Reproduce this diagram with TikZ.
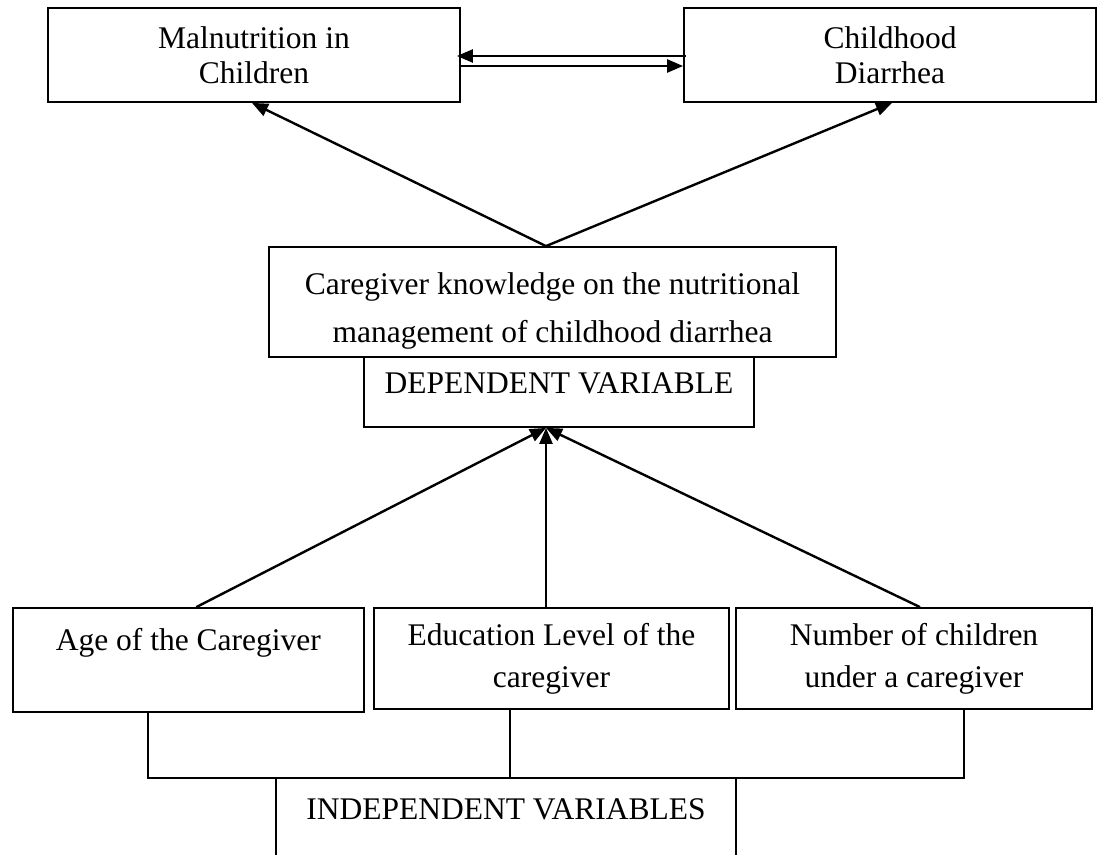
\documentclass[tikz,border=0pt]{standalone}
\usepackage{fontspec}
\setmainfont{Liberation Serif}
\usetikzlibrary{arrows.meta}
\tikzset{
  varbox/.style={draw, line width=1.8pt, inner sep=0pt, align=center, font=\fontsize{31.5}{42}\selectfont},
  flow/.style={line width=2.4pt, -{Triangle[length=16pt,width=13pt]}},
  link/.style={line width=1.4pt}
}

\begin{document}
\begin{tikzpicture}[x=1pt, y=-1pt]
    \useasboundingbox (0,0) rectangle (1097,854);
    % outcomes on top
    \node[varbox, minimum width=412pt, minimum height=94pt, font=\fontsize{31.5}{35}\selectfont] (malnut) at (254,55) {Malnutrition in\\Children};
    \node[varbox, minimum width=412pt, minimum height=94pt, font=\fontsize{31.5}{35}\selectfont] (diarr) at (890,55) {Childhood\\Diarrhea};
    % dependent variable
    \node[varbox, minimum width=567pt, minimum height=110pt, font=\fontsize{31.5}{48}\selectfont] (know) at (552.5,302)
      {\rule{0pt}{40pt}Caregiver knowledge on the nutritional\\management of childhood diarrhea\rule[-8pt]{0pt}{8pt}};
    \node[varbox, minimum width=390pt, minimum height=70pt, text height=21pt, text depth=18pt] (dep) at (559,392) {DEPENDENT VARIABLE};
    % independent variables
    \node[varbox, minimum width=351pt, minimum height=104pt] (age) at (188.3,660) {Age of the Caregiver\\~};
    \node[varbox, minimum width=355pt, minimum height=101pt] (edu) at (551.5,658.5) {Education Level of the\\caregiver};
    \node[varbox, minimum width=356pt, minimum height=101pt] (num) at (914,658.5) {Number of children\\under a caregiver};
    \node[varbox, line width=1.4pt, minimum width=460pt, minimum height=104pt] (indep) at (506,830) {INDEPENDENT VARIABLES\\~};
    % two-way link between the outcomes
    \draw[flow] ([shift={(3pt,-1pt)}]diarr.west) -- ([shift={(-4pt,-1pt)}]malnut.east);
    \draw[flow] ([yshift=-11pt]malnut.east) -- ([yshift=-11pt]diarr.west);
    % knowledge leads to both outcomes
    \draw[flow] ([xshift=-6.5pt]know.north) -- ([xshift=-2pt]malnut.south);
    \draw[flow] ([xshift=-6.5pt]know.north) -- ([xshift=2pt]diarr.south);
    % factors pointing at the dependent variable
    \draw[flow] ([xshift=8pt]age.north) -- ([xshift=-13pt]dep.south);
    \draw[flow] ([xshift=-5.5pt]edu.north) -- ([xshift=-13pt]dep.south);
    \draw[flow] ([xshift=6pt]num.north) -- ([xshift=-13pt]dep.south);
    % bracket grouping the factors
    \coordinate (jl) at (148,778);
    \coordinate (jm) at (510,778);
    \coordinate (jr) at (964,778);
    \draw[link] ([xshift=-40.3pt]age.south) -- (jl) -- (jr) -- ([xshift=50pt]num.south);
    \draw[link] ([xshift=-41.5pt]edu.south) -- (jm);
\end{tikzpicture}
\end{document}
